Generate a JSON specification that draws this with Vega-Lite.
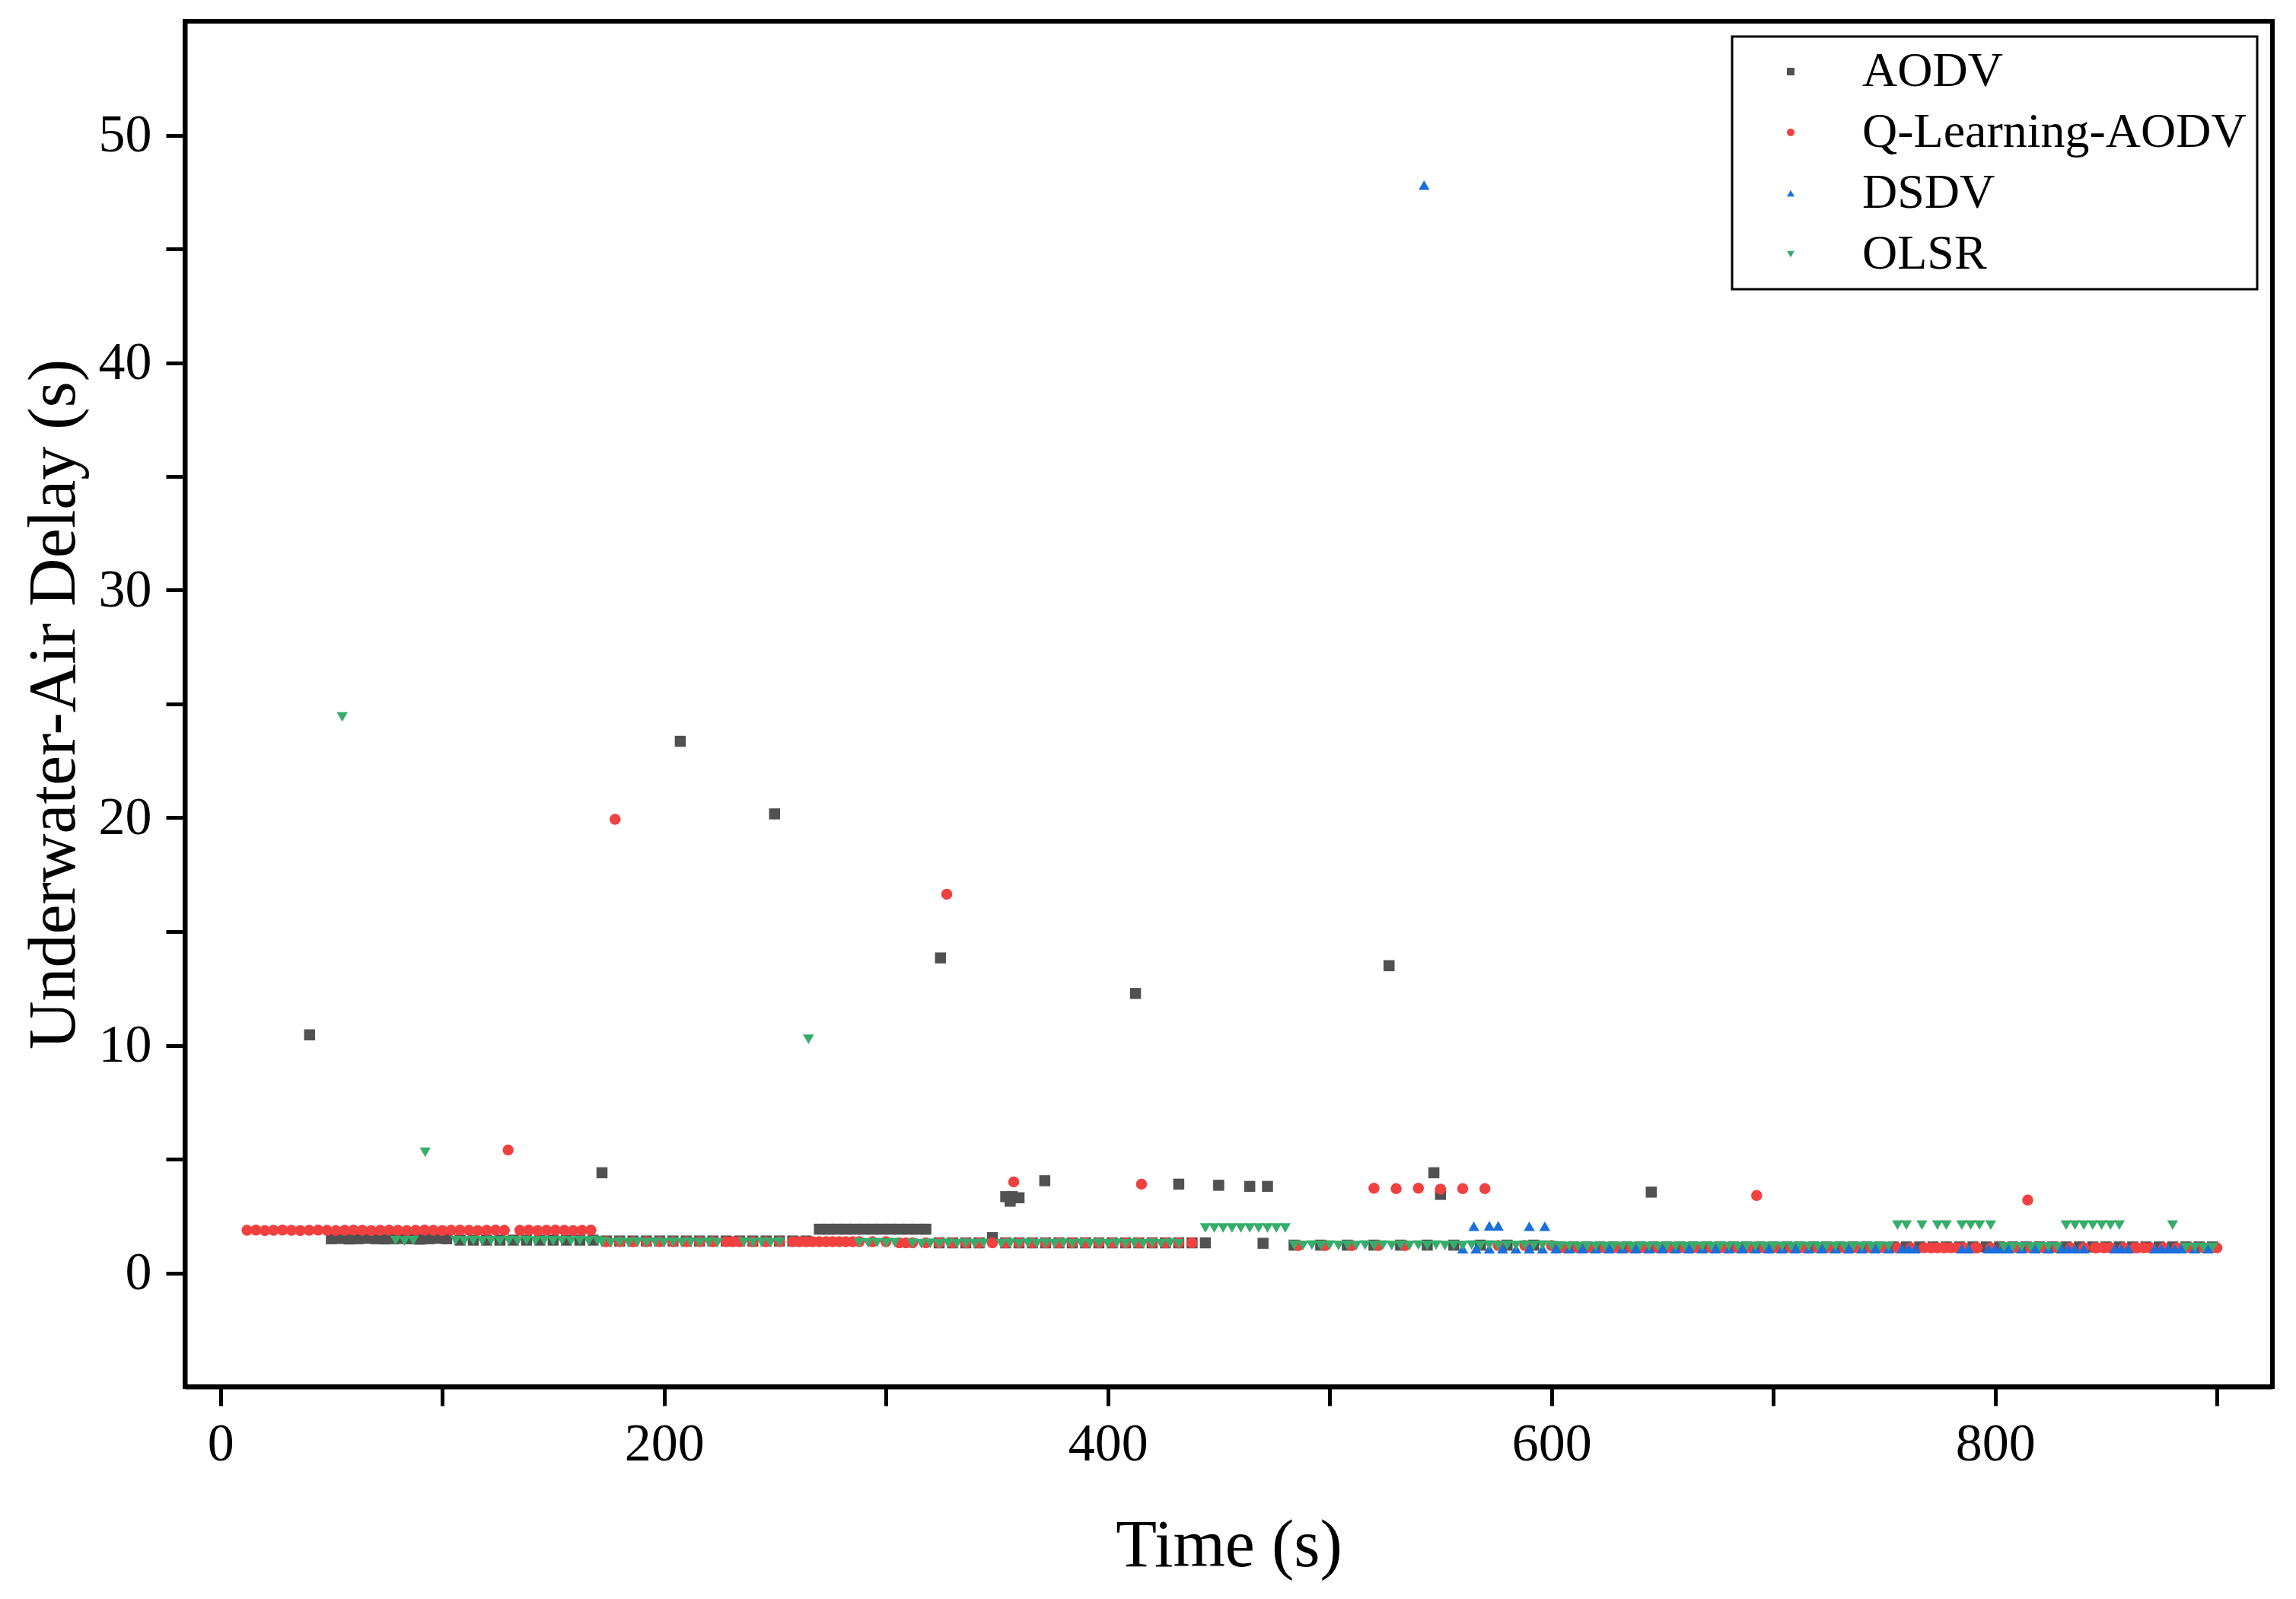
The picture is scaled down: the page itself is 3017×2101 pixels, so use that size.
{
  "$schema": "https://vega.github.io/schema/vega-lite/v6.json",
  "autosize": "none",
  "padding": {"left": 243, "top": 28, "right": 31, "bottom": 279},
  "width": 2743,
  "height": 1794,
  "background": "white",
  "config": {
    "font": "Liberation Serif",
    "view": {"stroke": "black", "strokeWidth": 6}
  },
  "data": {
    "values": [
      {"t": 40.2, "d": 10.46, "p": "AODV"}, {"t": 207.3, "d": 23.36, "p": "AODV"}, {"t": 249.8, "d": 20.17, "p": "AODV"},
      {"t": 324.6, "d": 13.84, "p": "AODV"}, {"t": 412.5, "d": 12.28, "p": "AODV"}, {"t": 526.8, "d": 13.5, "p": "AODV"},
      {"t": 172, "d": 4.4, "p": "AODV"}, {"t": 354, "d": 3.35, "p": "AODV"}, {"t": 357, "d": 3.35, "p": "AODV"},
      {"t": 360, "d": 3.3, "p": "AODV"}, {"t": 356, "d": 3.15, "p": "AODV"}, {"t": 371.6, "d": 4.05, "p": "AODV"},
      {"t": 432, "d": 3.9, "p": "AODV"}, {"t": 450, "d": 3.85, "p": "AODV"}, {"t": 464, "d": 3.8, "p": "AODV"},
      {"t": 472, "d": 3.8, "p": "AODV"}, {"t": 470, "d": 1.3, "p": "AODV"}, {"t": 547, "d": 4.4, "p": "AODV"},
      {"t": 550, "d": 3.45, "p": "AODV"}, {"t": 645, "d": 3.55, "p": "AODV"}, {"t": 348, "d": 1.55, "p": "AODV"},
      {"t": 50, "d": 1.5, "p": "AODV"}, {"t": 54, "d": 1.51, "p": "AODV"}, {"t": 58, "d": 1.49, "p": "AODV"}, {"t": 62, "d": 1.5, "p": "AODV"},
      {"t": 66, "d": 1.52, "p": "AODV"}, {"t": 70, "d": 1.5, "p": "AODV"}, {"t": 74, "d": 1.49, "p": "AODV"}, {"t": 78, "d": 1.5, "p": "AODV"},
      {"t": 82, "d": 1.51, "p": "AODV"}, {"t": 86, "d": 1.5, "p": "AODV"}, {"t": 90, "d": 1.48, "p": "AODV"}, {"t": 94, "d": 1.5, "p": "AODV"},
      {"t": 98, "d": 1.52, "p": "AODV"}, {"t": 102, "d": 1.5, "p": "AODV"},
      {"t": 108, "d": 1.44, "p": "AODV"}, {"t": 114, "d": 1.44, "p": "AODV"}, {"t": 120, "d": 1.44, "p": "AODV"}, {"t": 126, "d": 1.44, "p": "AODV"},
      {"t": 132, "d": 1.44, "p": "AODV"}, {"t": 138, "d": 1.44, "p": "AODV"}, {"t": 144, "d": 1.44, "p": "AODV"}, {"t": 150, "d": 1.44, "p": "AODV"},
      {"t": 156, "d": 1.44, "p": "AODV"}, {"t": 162, "d": 1.44, "p": "AODV"}, {"t": 168, "d": 1.44, "p": "AODV"},
      {"t": 174, "d": 1.4, "p": "AODV"}, {"t": 180, "d": 1.4, "p": "AODV"}, {"t": 186, "d": 1.4, "p": "AODV"}, {"t": 192, "d": 1.4, "p": "AODV"},
      {"t": 198, "d": 1.4, "p": "AODV"}, {"t": 204, "d": 1.4, "p": "AODV"}, {"t": 210, "d": 1.4, "p": "AODV"}, {"t": 216, "d": 1.4, "p": "AODV"},
      {"t": 222, "d": 1.4, "p": "AODV"}, {"t": 228, "d": 1.4, "p": "AODV"}, {"t": 234, "d": 1.4, "p": "AODV"}, {"t": 240, "d": 1.4, "p": "AODV"},
      {"t": 246, "d": 1.4, "p": "AODV"}, {"t": 252, "d": 1.4, "p": "AODV"}, {"t": 258, "d": 1.4, "p": "AODV"}, {"t": 264, "d": 1.4, "p": "AODV"},
      {"t": 270, "d": 1.92, "p": "AODV"}, {"t": 274, "d": 1.92, "p": "AODV"}, {"t": 278, "d": 1.92, "p": "AODV"}, {"t": 282, "d": 1.92, "p": "AODV"},
      {"t": 286, "d": 1.92, "p": "AODV"}, {"t": 290, "d": 1.92, "p": "AODV"}, {"t": 294, "d": 1.92, "p": "AODV"}, {"t": 298, "d": 1.92, "p": "AODV"},
      {"t": 302, "d": 1.92, "p": "AODV"}, {"t": 306, "d": 1.92, "p": "AODV"}, {"t": 310, "d": 1.92, "p": "AODV"}, {"t": 314, "d": 1.92, "p": "AODV"},
      {"t": 318, "d": 1.92, "p": "AODV"},
      {"t": 324, "d": 1.32, "p": "AODV"}, {"t": 330, "d": 1.32, "p": "AODV"}, {"t": 336, "d": 1.32, "p": "AODV"}, {"t": 342, "d": 1.32, "p": "AODV"},
      {"t": 354, "d": 1.32, "p": "AODV"}, {"t": 360, "d": 1.32, "p": "AODV"}, {"t": 366, "d": 1.32, "p": "AODV"}, {"t": 372, "d": 1.32, "p": "AODV"},
      {"t": 378, "d": 1.32, "p": "AODV"}, {"t": 384, "d": 1.32, "p": "AODV"}, {"t": 390, "d": 1.32, "p": "AODV"}, {"t": 396, "d": 1.32, "p": "AODV"},
      {"t": 402, "d": 1.32, "p": "AODV"}, {"t": 408, "d": 1.32, "p": "AODV"}, {"t": 414, "d": 1.32, "p": "AODV"}, {"t": 420, "d": 1.32, "p": "AODV"},
      {"t": 426, "d": 1.32, "p": "AODV"}, {"t": 432, "d": 1.32, "p": "AODV"}, {"t": 438, "d": 1.32, "p": "AODV"}, {"t": 444, "d": 1.32, "p": "AODV"},
      {"t": 484, "d": 1.22, "p": "AODV"}, {"t": 496, "d": 1.22, "p": "AODV"}, {"t": 508, "d": 1.22, "p": "AODV"}, {"t": 520, "d": 1.22, "p": "AODV"},
      {"t": 532, "d": 1.22, "p": "AODV"}, {"t": 544, "d": 1.22, "p": "AODV"}, {"t": 556, "d": 1.22, "p": "AODV"}, {"t": 568, "d": 1.22, "p": "AODV"},
      {"t": 580, "d": 1.22, "p": "AODV"}, {"t": 592, "d": 1.22, "p": "AODV"},
      {"t": 604, "d": 1.14, "p": "AODV"}, {"t": 610, "d": 1.14, "p": "AODV"}, {"t": 616, "d": 1.14, "p": "AODV"}, {"t": 622, "d": 1.14, "p": "AODV"},
      {"t": 628, "d": 1.14, "p": "AODV"}, {"t": 634, "d": 1.14, "p": "AODV"}, {"t": 640, "d": 1.14, "p": "AODV"}, {"t": 646, "d": 1.14, "p": "AODV"},
      {"t": 652, "d": 1.14, "p": "AODV"}, {"t": 658, "d": 1.14, "p": "AODV"}, {"t": 664, "d": 1.14, "p": "AODV"}, {"t": 670, "d": 1.14, "p": "AODV"},
      {"t": 676, "d": 1.14, "p": "AODV"}, {"t": 682, "d": 1.14, "p": "AODV"}, {"t": 688, "d": 1.14, "p": "AODV"}, {"t": 694, "d": 1.14, "p": "AODV"},
      {"t": 700, "d": 1.14, "p": "AODV"}, {"t": 706, "d": 1.14, "p": "AODV"}, {"t": 712, "d": 1.14, "p": "AODV"}, {"t": 718, "d": 1.14, "p": "AODV"},
      {"t": 724, "d": 1.14, "p": "AODV"}, {"t": 730, "d": 1.14, "p": "AODV"}, {"t": 736, "d": 1.14, "p": "AODV"}, {"t": 742, "d": 1.14, "p": "AODV"},
      {"t": 748, "d": 1.14, "p": "AODV"}, {"t": 754, "d": 1.14, "p": "AODV"}, {"t": 760, "d": 1.14, "p": "AODV"}, {"t": 766, "d": 1.14, "p": "AODV"},
      {"t": 772, "d": 1.14, "p": "AODV"}, {"t": 778, "d": 1.14, "p": "AODV"}, {"t": 784, "d": 1.14, "p": "AODV"}, {"t": 790, "d": 1.14, "p": "AODV"},
      {"t": 796, "d": 1.14, "p": "AODV"}, {"t": 802, "d": 1.14, "p": "AODV"}, {"t": 808, "d": 1.14, "p": "AODV"}, {"t": 814, "d": 1.14, "p": "AODV"},
      {"t": 820, "d": 1.14, "p": "AODV"}, {"t": 826, "d": 1.14, "p": "AODV"}, {"t": 832, "d": 1.14, "p": "AODV"}, {"t": 838, "d": 1.14, "p": "AODV"},
      {"t": 844, "d": 1.14, "p": "AODV"}, {"t": 850, "d": 1.14, "p": "AODV"}, {"t": 856, "d": 1.14, "p": "AODV"}, {"t": 862, "d": 1.14, "p": "AODV"},
      {"t": 868, "d": 1.14, "p": "AODV"}, {"t": 874, "d": 1.14, "p": "AODV"}, {"t": 880, "d": 1.14, "p": "AODV"}, {"t": 886, "d": 1.14, "p": "AODV"},
      {"t": 892, "d": 1.14, "p": "AODV"}, {"t": 898, "d": 1.14, "p": "AODV"},

      {"t": 129.7, "d": 5.4, "p": "Q-Learning-AODV"}, {"t": 177.9, "d": 19.93, "p": "Q-Learning-AODV"}, {"t": 327.4, "d": 16.64, "p": "Q-Learning-AODV"},
      {"t": 357.6, "d": 4.0, "p": "Q-Learning-AODV"}, {"t": 415.2, "d": 3.9, "p": "Q-Learning-AODV"}, {"t": 520, "d": 3.72, "p": "Q-Learning-AODV"},
      {"t": 530, "d": 3.7, "p": "Q-Learning-AODV"}, {"t": 540, "d": 3.72, "p": "Q-Learning-AODV"}, {"t": 550, "d": 3.68, "p": "Q-Learning-AODV"},
      {"t": 560, "d": 3.7, "p": "Q-Learning-AODV"}, {"t": 570, "d": 3.7, "p": "Q-Learning-AODV"}, {"t": 692.5, "d": 3.4, "p": "Q-Learning-AODV"},
      {"t": 814.7, "d": 3.2, "p": "Q-Learning-AODV"},
      {"t": 12, "d": 1.87, "p": "Q-Learning-AODV"}, {"t": 16, "d": 1.88, "p": "Q-Learning-AODV"}, {"t": 20, "d": 1.86, "p": "Q-Learning-AODV"},
      {"t": 24, "d": 1.87, "p": "Q-Learning-AODV"}, {"t": 28, "d": 1.88, "p": "Q-Learning-AODV"}, {"t": 32, "d": 1.87, "p": "Q-Learning-AODV"},
      {"t": 36, "d": 1.86, "p": "Q-Learning-AODV"}, {"t": 40, "d": 1.87, "p": "Q-Learning-AODV"}, {"t": 44, "d": 1.88, "p": "Q-Learning-AODV"},
      {"t": 48, "d": 1.87, "p": "Q-Learning-AODV"}, {"t": 52, "d": 1.86, "p": "Q-Learning-AODV"}, {"t": 56, "d": 1.87, "p": "Q-Learning-AODV"},
      {"t": 60, "d": 1.88, "p": "Q-Learning-AODV"}, {"t": 64, "d": 1.87, "p": "Q-Learning-AODV"}, {"t": 68, "d": 1.86, "p": "Q-Learning-AODV"},
      {"t": 72, "d": 1.87, "p": "Q-Learning-AODV"}, {"t": 76, "d": 1.88, "p": "Q-Learning-AODV"}, {"t": 80, "d": 1.87, "p": "Q-Learning-AODV"},
      {"t": 84, "d": 1.86, "p": "Q-Learning-AODV"}, {"t": 88, "d": 1.87, "p": "Q-Learning-AODV"}, {"t": 92, "d": 1.88, "p": "Q-Learning-AODV"},
      {"t": 96, "d": 1.87, "p": "Q-Learning-AODV"}, {"t": 100, "d": 1.86, "p": "Q-Learning-AODV"}, {"t": 104, "d": 1.87, "p": "Q-Learning-AODV"},
      {"t": 108, "d": 1.88, "p": "Q-Learning-AODV"}, {"t": 112, "d": 1.87, "p": "Q-Learning-AODV"}, {"t": 116, "d": 1.86, "p": "Q-Learning-AODV"},
      {"t": 120, "d": 1.87, "p": "Q-Learning-AODV"}, {"t": 124, "d": 1.88, "p": "Q-Learning-AODV"}, {"t": 128, "d": 1.87, "p": "Q-Learning-AODV"},
      {"t": 135, "d": 1.87, "p": "Q-Learning-AODV"}, {"t": 139, "d": 1.88, "p": "Q-Learning-AODV"}, {"t": 143, "d": 1.86, "p": "Q-Learning-AODV"},
      {"t": 147, "d": 1.87, "p": "Q-Learning-AODV"}, {"t": 151, "d": 1.88, "p": "Q-Learning-AODV"}, {"t": 155, "d": 1.87, "p": "Q-Learning-AODV"},
      {"t": 159, "d": 1.86, "p": "Q-Learning-AODV"}, {"t": 163, "d": 1.87, "p": "Q-Learning-AODV"}, {"t": 167, "d": 1.88, "p": "Q-Learning-AODV"},
      {"t": 174, "d": 1.37, "p": "Q-Learning-AODV"}, {"t": 180, "d": 1.37, "p": "Q-Learning-AODV"}, {"t": 186, "d": 1.37, "p": "Q-Learning-AODV"},
      {"t": 192, "d": 1.37, "p": "Q-Learning-AODV"}, {"t": 198, "d": 1.37, "p": "Q-Learning-AODV"}, {"t": 204, "d": 1.37, "p": "Q-Learning-AODV"},
      {"t": 210, "d": 1.37, "p": "Q-Learning-AODV"}, {"t": 216, "d": 1.37, "p": "Q-Learning-AODV"}, {"t": 222, "d": 1.37, "p": "Q-Learning-AODV"},
      {"t": 228, "d": 1.37, "p": "Q-Learning-AODV"}, {"t": 231, "d": 1.37, "p": "Q-Learning-AODV"}, {"t": 234, "d": 1.37, "p": "Q-Learning-AODV"},
      {"t": 240, "d": 1.37, "p": "Q-Learning-AODV"}, {"t": 246, "d": 1.37, "p": "Q-Learning-AODV"}, {"t": 252, "d": 1.37, "p": "Q-Learning-AODV"},
      {"t": 258, "d": 1.37, "p": "Q-Learning-AODV"}, {"t": 261, "d": 1.37, "p": "Q-Learning-AODV"}, {"t": 264, "d": 1.37, "p": "Q-Learning-AODV"},
      {"t": 267, "d": 1.37, "p": "Q-Learning-AODV"}, {"t": 270, "d": 1.37, "p": "Q-Learning-AODV"}, {"t": 273, "d": 1.37, "p": "Q-Learning-AODV"},
      {"t": 276, "d": 1.37, "p": "Q-Learning-AODV"}, {"t": 279, "d": 1.37, "p": "Q-Learning-AODV"}, {"t": 282, "d": 1.37, "p": "Q-Learning-AODV"},
      {"t": 285, "d": 1.37, "p": "Q-Learning-AODV"}, {"t": 288, "d": 1.37, "p": "Q-Learning-AODV"}, {"t": 294, "d": 1.37, "p": "Q-Learning-AODV"},
      {"t": 300, "d": 1.37, "p": "Q-Learning-AODV"}, {"t": 306, "d": 1.32, "p": "Q-Learning-AODV"}, {"t": 309, "d": 1.32, "p": "Q-Learning-AODV"},
      {"t": 312, "d": 1.32, "p": "Q-Learning-AODV"}, {"t": 318, "d": 1.32, "p": "Q-Learning-AODV"}, {"t": 324, "d": 1.32, "p": "Q-Learning-AODV"},
      {"t": 330, "d": 1.32, "p": "Q-Learning-AODV"}, {"t": 336, "d": 1.32, "p": "Q-Learning-AODV"}, {"t": 342, "d": 1.32, "p": "Q-Learning-AODV"},
      {"t": 348, "d": 1.32, "p": "Q-Learning-AODV"}, {"t": 354, "d": 1.32, "p": "Q-Learning-AODV"}, {"t": 360, "d": 1.32, "p": "Q-Learning-AODV"},
      {"t": 366, "d": 1.32, "p": "Q-Learning-AODV"}, {"t": 372, "d": 1.32, "p": "Q-Learning-AODV"}, {"t": 378, "d": 1.32, "p": "Q-Learning-AODV"},
      {"t": 384, "d": 1.32, "p": "Q-Learning-AODV"}, {"t": 390, "d": 1.32, "p": "Q-Learning-AODV"}, {"t": 396, "d": 1.32, "p": "Q-Learning-AODV"},
      {"t": 402, "d": 1.32, "p": "Q-Learning-AODV"}, {"t": 408, "d": 1.32, "p": "Q-Learning-AODV"}, {"t": 414, "d": 1.32, "p": "Q-Learning-AODV"},
      {"t": 420, "d": 1.32, "p": "Q-Learning-AODV"}, {"t": 426, "d": 1.32, "p": "Q-Learning-AODV"}, {"t": 432, "d": 1.32, "p": "Q-Learning-AODV"},
      {"t": 438, "d": 1.32, "p": "Q-Learning-AODV"},
      {"t": 486, "d": 1.2, "p": "Q-Learning-AODV"}, {"t": 498, "d": 1.2, "p": "Q-Learning-AODV"}, {"t": 510, "d": 1.2, "p": "Q-Learning-AODV"},
      {"t": 522, "d": 1.2, "p": "Q-Learning-AODV"}, {"t": 534, "d": 1.2, "p": "Q-Learning-AODV"}, {"t": 576, "d": 1.2, "p": "Q-Learning-AODV"},
      {"t": 588, "d": 1.2, "p": "Q-Learning-AODV"}, {"t": 600, "d": 1.2, "p": "Q-Learning-AODV"},
      {"t": 606, "d": 1.1, "p": "Q-Learning-AODV"}, {"t": 612, "d": 1.1, "p": "Q-Learning-AODV"}, {"t": 618, "d": 1.1, "p": "Q-Learning-AODV"},
      {"t": 624, "d": 1.1, "p": "Q-Learning-AODV"}, {"t": 630, "d": 1.1, "p": "Q-Learning-AODV"}, {"t": 636, "d": 1.1, "p": "Q-Learning-AODV"},
      {"t": 642, "d": 1.1, "p": "Q-Learning-AODV"}, {"t": 648, "d": 1.1, "p": "Q-Learning-AODV"}, {"t": 654, "d": 1.1, "p": "Q-Learning-AODV"},
      {"t": 660, "d": 1.1, "p": "Q-Learning-AODV"}, {"t": 666, "d": 1.1, "p": "Q-Learning-AODV"}, {"t": 672, "d": 1.1, "p": "Q-Learning-AODV"},
      {"t": 678, "d": 1.1, "p": "Q-Learning-AODV"}, {"t": 684, "d": 1.1, "p": "Q-Learning-AODV"}, {"t": 690, "d": 1.1, "p": "Q-Learning-AODV"},
      {"t": 696, "d": 1.1, "p": "Q-Learning-AODV"}, {"t": 702, "d": 1.1, "p": "Q-Learning-AODV"}, {"t": 708, "d": 1.1, "p": "Q-Learning-AODV"},
      {"t": 714, "d": 1.1, "p": "Q-Learning-AODV"}, {"t": 720, "d": 1.1, "p": "Q-Learning-AODV"}, {"t": 726, "d": 1.1, "p": "Q-Learning-AODV"},
      {"t": 732, "d": 1.1, "p": "Q-Learning-AODV"}, {"t": 738, "d": 1.1, "p": "Q-Learning-AODV"}, {"t": 744, "d": 1.1, "p": "Q-Learning-AODV"},
      {"t": 750, "d": 1.1, "p": "Q-Learning-AODV"}, {"t": 756, "d": 1.1, "p": "Q-Learning-AODV"}, {"t": 762, "d": 1.1, "p": "Q-Learning-AODV"},
      {"t": 768, "d": 1.1, "p": "Q-Learning-AODV"}, {"t": 771, "d": 1.1, "p": "Q-Learning-AODV"}, {"t": 774, "d": 1.1, "p": "Q-Learning-AODV"},
      {"t": 777, "d": 1.1, "p": "Q-Learning-AODV"}, {"t": 780, "d": 1.1, "p": "Q-Learning-AODV"}, {"t": 783, "d": 1.1, "p": "Q-Learning-AODV"},
      {"t": 786, "d": 1.1, "p": "Q-Learning-AODV"}, {"t": 791, "d": 1.1, "p": "Q-Learning-AODV"}, {"t": 792, "d": 1.1, "p": "Q-Learning-AODV"},
      {"t": 798, "d": 1.1, "p": "Q-Learning-AODV"}, {"t": 804, "d": 1.1, "p": "Q-Learning-AODV"}, {"t": 810, "d": 1.1, "p": "Q-Learning-AODV"},
      {"t": 816, "d": 1.1, "p": "Q-Learning-AODV"}, {"t": 822, "d": 1.1, "p": "Q-Learning-AODV"}, {"t": 828, "d": 1.1, "p": "Q-Learning-AODV"},
      {"t": 834, "d": 1.1, "p": "Q-Learning-AODV"}, {"t": 840, "d": 1.1, "p": "Q-Learning-AODV"}, {"t": 845, "d": 1.1, "p": "Q-Learning-AODV"},
      {"t": 846, "d": 1.1, "p": "Q-Learning-AODV"}, {"t": 849, "d": 1.1, "p": "Q-Learning-AODV"}, {"t": 852, "d": 1.1, "p": "Q-Learning-AODV"},
      {"t": 858, "d": 1.1, "p": "Q-Learning-AODV"}, {"t": 863, "d": 1.1, "p": "Q-Learning-AODV"}, {"t": 864, "d": 1.1, "p": "Q-Learning-AODV"},
      {"t": 867, "d": 1.1, "p": "Q-Learning-AODV"}, {"t": 870, "d": 1.1, "p": "Q-Learning-AODV"}, {"t": 876, "d": 1.1, "p": "Q-Learning-AODV"},
      {"t": 882, "d": 1.1, "p": "Q-Learning-AODV"}, {"t": 888, "d": 1.1, "p": "Q-Learning-AODV"}, {"t": 894, "d": 1.1, "p": "Q-Learning-AODV"},
      {"t": 900, "d": 1.1, "p": "Q-Learning-AODV"},

      {"t": 542.6, "d": 47.8, "p": "DSDV"}, {"t": 565, "d": 2.05, "p": "DSDV"}, {"t": 572, "d": 2.07, "p": "DSDV"},
      {"t": 576, "d": 2.07, "p": "DSDV"}, {"t": 590, "d": 2.05, "p": "DSDV"}, {"t": 597, "d": 2.05, "p": "DSDV"},
      {"t": 560, "d": 1.06, "p": "DSDV"}, {"t": 566, "d": 1.06, "p": "DSDV"}, {"t": 572, "d": 1.06, "p": "DSDV"}, {"t": 578, "d": 1.06, "p": "DSDV"},
      {"t": 584, "d": 1.06, "p": "DSDV"}, {"t": 590, "d": 1.06, "p": "DSDV"}, {"t": 596, "d": 1.06, "p": "DSDV"}, {"t": 602, "d": 1.06, "p": "DSDV"},
      {"t": 608, "d": 1.06, "p": "DSDV"}, {"t": 614, "d": 1.06, "p": "DSDV"}, {"t": 620, "d": 1.06, "p": "DSDV"}, {"t": 626, "d": 1.06, "p": "DSDV"},
      {"t": 632, "d": 1.06, "p": "DSDV"}, {"t": 638, "d": 1.06, "p": "DSDV"}, {"t": 644, "d": 1.06, "p": "DSDV"}, {"t": 650, "d": 1.06, "p": "DSDV"},
      {"t": 656, "d": 1.06, "p": "DSDV"}, {"t": 662, "d": 1.06, "p": "DSDV"}, {"t": 668, "d": 1.06, "p": "DSDV"}, {"t": 674, "d": 1.06, "p": "DSDV"},
      {"t": 680, "d": 1.06, "p": "DSDV"}, {"t": 686, "d": 1.06, "p": "DSDV"}, {"t": 692, "d": 1.06, "p": "DSDV"}, {"t": 698, "d": 1.06, "p": "DSDV"},
      {"t": 704, "d": 1.06, "p": "DSDV"}, {"t": 710, "d": 1.06, "p": "DSDV"}, {"t": 716, "d": 1.06, "p": "DSDV"}, {"t": 722, "d": 1.06, "p": "DSDV"},
      {"t": 728, "d": 1.06, "p": "DSDV"}, {"t": 734, "d": 1.06, "p": "DSDV"}, {"t": 740, "d": 1.06, "p": "DSDV"}, {"t": 746, "d": 1.06, "p": "DSDV"},
      {"t": 752, "d": 1.06, "p": "DSDV"}, {"t": 758, "d": 1.06, "p": "DSDV"}, {"t": 761, "d": 1.06, "p": "DSDV"}, {"t": 764, "d": 1.06, "p": "DSDV"},
      {"t": 785, "d": 1.06, "p": "DSDV"}, {"t": 788, "d": 1.06, "p": "DSDV"}, {"t": 797, "d": 1.06, "p": "DSDV"}, {"t": 800, "d": 1.06, "p": "DSDV"},
      {"t": 803, "d": 1.06, "p": "DSDV"}, {"t": 806, "d": 1.06, "p": "DSDV"}, {"t": 812, "d": 1.06, "p": "DSDV"}, {"t": 818, "d": 1.06, "p": "DSDV"},
      {"t": 824, "d": 1.06, "p": "DSDV"}, {"t": 830, "d": 1.06, "p": "DSDV"}, {"t": 833, "d": 1.06, "p": "DSDV"}, {"t": 836, "d": 1.06, "p": "DSDV"},
      {"t": 840, "d": 1.06, "p": "DSDV"}, {"t": 854, "d": 1.06, "p": "DSDV"}, {"t": 857, "d": 1.06, "p": "DSDV"}, {"t": 860, "d": 1.06, "p": "DSDV"},
      {"t": 872, "d": 1.06, "p": "DSDV"}, {"t": 875, "d": 1.06, "p": "DSDV"}, {"t": 878, "d": 1.06, "p": "DSDV"}, {"t": 881, "d": 1.06, "p": "DSDV"},
      {"t": 884, "d": 1.06, "p": "DSDV"}, {"t": 890, "d": 1.06, "p": "DSDV"}, {"t": 896, "d": 1.06, "p": "DSDV"},

      {"t": 54.9, "d": 24.43, "p": "OLSR"}, {"t": 92.3, "d": 5.3, "p": "OLSR"}, {"t": 265.1, "d": 10.27, "p": "OLSR"},
      {"t": 79, "d": 1.42, "p": "OLSR"}, {"t": 83, "d": 1.4, "p": "OLSR"}, {"t": 87, "d": 1.42, "p": "OLSR"},
      {"t": 106, "d": 1.42, "p": "OLSR"}, {"t": 110, "d": 1.4, "p": "OLSR"}, {"t": 114, "d": 1.42, "p": "OLSR"}, {"t": 118, "d": 1.4, "p": "OLSR"},
      {"t": 122, "d": 1.42, "p": "OLSR"}, {"t": 126, "d": 1.4, "p": "OLSR"}, {"t": 130, "d": 1.42, "p": "OLSR"}, {"t": 134, "d": 1.4, "p": "OLSR"},
      {"t": 138, "d": 1.42, "p": "OLSR"}, {"t": 142, "d": 1.4, "p": "OLSR"}, {"t": 146, "d": 1.42, "p": "OLSR"}, {"t": 150, "d": 1.4, "p": "OLSR"},
      {"t": 154, "d": 1.42, "p": "OLSR"}, {"t": 158, "d": 1.4, "p": "OLSR"}, {"t": 162, "d": 1.42, "p": "OLSR"}, {"t": 166, "d": 1.4, "p": "OLSR"},
      {"t": 170, "d": 1.42, "p": "OLSR"},
      {"t": 172, "d": 1.35, "p": "OLSR"}, {"t": 176, "d": 1.33, "p": "OLSR"}, {"t": 180, "d": 1.35, "p": "OLSR"}, {"t": 184, "d": 1.33, "p": "OLSR"},
      {"t": 188, "d": 1.35, "p": "OLSR"}, {"t": 192, "d": 1.33, "p": "OLSR"}, {"t": 196, "d": 1.35, "p": "OLSR"}, {"t": 200, "d": 1.33, "p": "OLSR"},
      {"t": 204, "d": 1.35, "p": "OLSR"}, {"t": 208, "d": 1.33, "p": "OLSR"}, {"t": 212, "d": 1.35, "p": "OLSR"}, {"t": 216, "d": 1.33, "p": "OLSR"},
      {"t": 220, "d": 1.35, "p": "OLSR"}, {"t": 224, "d": 1.33, "p": "OLSR"}, {"t": 236, "d": 1.35, "p": "OLSR"}, {"t": 240, "d": 1.33, "p": "OLSR"},
      {"t": 244, "d": 1.35, "p": "OLSR"}, {"t": 248, "d": 1.33, "p": "OLSR"}, {"t": 252, "d": 1.35, "p": "OLSR"},
      {"t": 288, "d": 1.33, "p": "OLSR"}, {"t": 292, "d": 1.31, "p": "OLSR"}, {"t": 296, "d": 1.33, "p": "OLSR"}, {"t": 300, "d": 1.31, "p": "OLSR"},
      {"t": 304, "d": 1.33, "p": "OLSR"},
      {"t": 312, "d": 1.3, "p": "OLSR"}, {"t": 316, "d": 1.28, "p": "OLSR"}, {"t": 320, "d": 1.3, "p": "OLSR"}, {"t": 324, "d": 1.28, "p": "OLSR"},
      {"t": 328, "d": 1.3, "p": "OLSR"}, {"t": 332, "d": 1.28, "p": "OLSR"}, {"t": 336, "d": 1.3, "p": "OLSR"}, {"t": 340, "d": 1.28, "p": "OLSR"},
      {"t": 344, "d": 1.3, "p": "OLSR"}, {"t": 352, "d": 1.28, "p": "OLSR"}, {"t": 356, "d": 1.3, "p": "OLSR"}, {"t": 360, "d": 1.28, "p": "OLSR"},
      {"t": 364, "d": 1.3, "p": "OLSR"}, {"t": 368, "d": 1.28, "p": "OLSR"}, {"t": 372, "d": 1.3, "p": "OLSR"}, {"t": 376, "d": 1.28, "p": "OLSR"},
      {"t": 380, "d": 1.3, "p": "OLSR"}, {"t": 384, "d": 1.28, "p": "OLSR"}, {"t": 388, "d": 1.3, "p": "OLSR"}, {"t": 392, "d": 1.28, "p": "OLSR"},
      {"t": 396, "d": 1.3, "p": "OLSR"}, {"t": 400, "d": 1.28, "p": "OLSR"}, {"t": 404, "d": 1.3, "p": "OLSR"}, {"t": 408, "d": 1.28, "p": "OLSR"},
      {"t": 412, "d": 1.3, "p": "OLSR"}, {"t": 416, "d": 1.28, "p": "OLSR"}, {"t": 420, "d": 1.3, "p": "OLSR"}, {"t": 424, "d": 1.28, "p": "OLSR"},
      {"t": 428, "d": 1.3, "p": "OLSR"}, {"t": 432, "d": 1.28, "p": "OLSR"},
      {"t": 444, "d": 1.97, "p": "OLSR"}, {"t": 448, "d": 1.97, "p": "OLSR"}, {"t": 452, "d": 1.97, "p": "OLSR"}, {"t": 456, "d": 1.97, "p": "OLSR"},
      {"t": 460, "d": 1.97, "p": "OLSR"}, {"t": 464, "d": 1.97, "p": "OLSR"}, {"t": 468, "d": 1.97, "p": "OLSR"}, {"t": 472, "d": 1.97, "p": "OLSR"},
      {"t": 476, "d": 1.97, "p": "OLSR"}, {"t": 480, "d": 1.97, "p": "OLSR"},
      {"t": 484, "d": 1.22, "p": "OLSR"}, {"t": 488, "d": 1.2, "p": "OLSR"}, {"t": 492, "d": 1.22, "p": "OLSR"}, {"t": 496, "d": 1.2, "p": "OLSR"},
      {"t": 500, "d": 1.22, "p": "OLSR"}, {"t": 504, "d": 1.2, "p": "OLSR"}, {"t": 508, "d": 1.22, "p": "OLSR"}, {"t": 512, "d": 1.2, "p": "OLSR"},
      {"t": 516, "d": 1.22, "p": "OLSR"}, {"t": 520, "d": 1.2, "p": "OLSR"}, {"t": 524, "d": 1.22, "p": "OLSR"}, {"t": 528, "d": 1.2, "p": "OLSR"},
      {"t": 532, "d": 1.22, "p": "OLSR"}, {"t": 536, "d": 1.2, "p": "OLSR"}, {"t": 540, "d": 1.22, "p": "OLSR"}, {"t": 544, "d": 1.2, "p": "OLSR"},
      {"t": 548, "d": 1.22, "p": "OLSR"}, {"t": 552, "d": 1.2, "p": "OLSR"}, {"t": 556, "d": 1.22, "p": "OLSR"}, {"t": 560, "d": 1.2, "p": "OLSR"},
      {"t": 564, "d": 1.22, "p": "OLSR"}, {"t": 568, "d": 1.2, "p": "OLSR"}, {"t": 572, "d": 1.22, "p": "OLSR"}, {"t": 576, "d": 1.2, "p": "OLSR"},
      {"t": 580, "d": 1.22, "p": "OLSR"}, {"t": 584, "d": 1.2, "p": "OLSR"}, {"t": 588, "d": 1.22, "p": "OLSR"}, {"t": 592, "d": 1.2, "p": "OLSR"},
      {"t": 596, "d": 1.22, "p": "OLSR"}, {"t": 600, "d": 1.2, "p": "OLSR"},
      {"t": 604, "d": 1.16, "p": "OLSR"}, {"t": 608, "d": 1.16, "p": "OLSR"}, {"t": 612, "d": 1.16, "p": "OLSR"}, {"t": 616, "d": 1.16, "p": "OLSR"},
      {"t": 620, "d": 1.16, "p": "OLSR"}, {"t": 624, "d": 1.16, "p": "OLSR"}, {"t": 628, "d": 1.16, "p": "OLSR"}, {"t": 632, "d": 1.16, "p": "OLSR"},
      {"t": 636, "d": 1.16, "p": "OLSR"}, {"t": 640, "d": 1.16, "p": "OLSR"}, {"t": 644, "d": 1.16, "p": "OLSR"}, {"t": 648, "d": 1.16, "p": "OLSR"},
      {"t": 652, "d": 1.16, "p": "OLSR"}, {"t": 656, "d": 1.16, "p": "OLSR"}, {"t": 660, "d": 1.16, "p": "OLSR"}, {"t": 664, "d": 1.16, "p": "OLSR"},
      {"t": 668, "d": 1.16, "p": "OLSR"}, {"t": 672, "d": 1.16, "p": "OLSR"}, {"t": 676, "d": 1.16, "p": "OLSR"}, {"t": 680, "d": 1.16, "p": "OLSR"},
      {"t": 684, "d": 1.16, "p": "OLSR"}, {"t": 688, "d": 1.16, "p": "OLSR"}, {"t": 692, "d": 1.16, "p": "OLSR"}, {"t": 696, "d": 1.16, "p": "OLSR"},
      {"t": 700, "d": 1.16, "p": "OLSR"}, {"t": 704, "d": 1.16, "p": "OLSR"}, {"t": 708, "d": 1.16, "p": "OLSR"}, {"t": 712, "d": 1.16, "p": "OLSR"},
      {"t": 716, "d": 1.16, "p": "OLSR"}, {"t": 720, "d": 1.16, "p": "OLSR"}, {"t": 724, "d": 1.16, "p": "OLSR"}, {"t": 728, "d": 1.16, "p": "OLSR"},
      {"t": 732, "d": 1.16, "p": "OLSR"}, {"t": 736, "d": 1.16, "p": "OLSR"}, {"t": 740, "d": 1.16, "p": "OLSR"}, {"t": 744, "d": 1.16, "p": "OLSR"},
      {"t": 748, "d": 1.16, "p": "OLSR"}, {"t": 752, "d": 1.16, "p": "OLSR"},
      {"t": 756, "d": 2.1, "p": "OLSR"}, {"t": 760, "d": 2.1, "p": "OLSR"}, {"t": 767, "d": 2.1, "p": "OLSR"}, {"t": 774, "d": 2.1, "p": "OLSR"},
      {"t": 778, "d": 2.1, "p": "OLSR"}, {"t": 785, "d": 2.1, "p": "OLSR"}, {"t": 789, "d": 2.1, "p": "OLSR"}, {"t": 793, "d": 2.1, "p": "OLSR"},
      {"t": 798, "d": 2.1, "p": "OLSR"},
      {"t": 804, "d": 1.14, "p": "OLSR"}, {"t": 808, "d": 1.14, "p": "OLSR"}, {"t": 812, "d": 1.14, "p": "OLSR"}, {"t": 816, "d": 1.14, "p": "OLSR"},
      {"t": 820, "d": 1.14, "p": "OLSR"}, {"t": 824, "d": 1.14, "p": "OLSR"}, {"t": 828, "d": 1.14, "p": "OLSR"},
      {"t": 832, "d": 2.1, "p": "OLSR"}, {"t": 836, "d": 2.1, "p": "OLSR"}, {"t": 840, "d": 2.1, "p": "OLSR"}, {"t": 844, "d": 2.1, "p": "OLSR"},
      {"t": 848, "d": 2.1, "p": "OLSR"}, {"t": 852, "d": 2.1, "p": "OLSR"}, {"t": 856, "d": 2.1, "p": "OLSR"}, {"t": 880, "d": 2.1, "p": "OLSR"},
      {"t": 886, "d": 1.12, "p": "OLSR"}, {"t": 890, "d": 1.12, "p": "OLSR"}, {"t": 894, "d": 1.12, "p": "OLSR"}, {"t": 898, "d": 1.12, "p": "OLSR"}
    ]
  },
  "mark": {"type": "point", "filled": true, "opacity": 1, "size": 210},
  "encoding": {
    "x": {
      "field": "t",
      "type": "quantitative",
      "scale": {"domain": [-16, 925], "nice": false, "zero": false},
      "axis": {
        "title": "Time (s)",
        "values": [0, 100, 200, 300, 400, 500, 600, 700, 800, 900],
        "labelExpr": "datum.value % 200 === 0 ? datum.label : ''",
        "grid": false,
        "labelFontSize": 70,
        "labelColor": "black",
        "labelPadding": 16,
        "titleFontSize": 88,
        "titleFontWeight": "normal",
        "titleColor": "black",
        "titlePadding": 55,
        "domainColor": "black",
        "domainWidth": 6,
        "tickColor": "black",
        "tickWidth": 5,
        "tickSize": 25,
        "encode": {"ticks": {"update": {"y2": {"signal": "datum.value % 200 === 0 ? 25 : 12"}}}}
      }
    },
    "y": {
      "field": "d",
      "type": "quantitative",
      "scale": {"domain": [-5, 55], "nice": false, "zero": false},
      "axis": {
        "title": "Underwater-Air Delay (s)",
        "values": [0, 5, 10, 15, 20, 25, 30, 35, 40, 45, 50],
        "labelExpr": "datum.value % 10 === 0 ? datum.label : ''",
        "grid": false,
        "labelFontSize": 70,
        "labelColor": "black",
        "labelPadding": 19,
        "titleFontSize": 88,
        "titleFontWeight": "normal",
        "titleColor": "black",
        "titlePadding": 14,
        "domainColor": "black",
        "domainWidth": 6,
        "tickColor": "black",
        "tickWidth": 5,
        "tickSize": 25,
        "encode": {"ticks": {"update": {"x2": {"signal": "datum.value % 10 === 0 ? -25 : -12"}}}}
      }
    },
    "color": {
      "field": "p",
      "type": "nominal",
      "scale": {
        "domain": ["AODV", "Q-Learning-AODV", "DSDV", "OLSR"],
        "range": ["#515151", "#F14040", "#1A6FDF", "#37AD6B"]
      },
      "legend": {
        "title": null,
        "orient": "top-right",
        "offset": 20,
        "padding": 14,
        "rowPadding": 16,
        "symbolOffset": 31,
        "labelOffset": 62,
        "symbolSize": 100,
        "labelFontSize": 64,
        "labelColor": "black",
        "labelLimit": 1000,
        "fillColor": "white",
        "strokeColor": "black",
        "symbolOpacity": 1,
        "encode": {"legend": {"update": {"strokeWidth": {"value": 3}}}}
      }
    },
    "shape": {
      "field": "p",
      "type": "nominal",
      "scale": {
        "domain": ["AODV", "Q-Learning-AODV", "DSDV", "OLSR"],
        "range": ["square", "circle", "triangle-up", "triangle-down"]
      }
    }
  }
}
